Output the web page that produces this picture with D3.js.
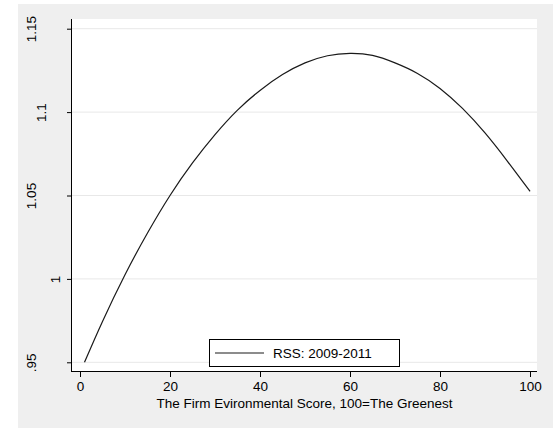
<html>
<head>
<script src="https://d3js.org/d3.v7.min.js"></script>
<style>
	body { margin: 0; background: white; }
	text { font-family: "Liberation Sans", Arial, Helvetica, sans-serif; fill: black; }
</style>
</head>
<body>
<svg id="chart" width="553" height="436"></svg>
<script>
// values
var scores = [1, 5, 10, 15, 20, 25, 30, 35, 40, 45, 50, 55, 60, 65, 70, 75, 80, 85, 90, 95, 100];
var rss = [0.950, 0.9745, 1.0025, 1.0275, 1.050, 1.0695, 1.0865, 1.1012, 1.113, 1.1225, 1.1295, 1.1338,
           1.1352, 1.134, 1.1295, 1.1232, 1.1142, 1.1022, 1.0875, 1.0705, 1.0525];
var xTicks = [0, 20, 40, 60, 80, 100];
var yTicks = [0.95, 1, 1.05, 1.1, 1.15];
var seriesName = "RSS: 2009-2011";
var xTitle = "The Firm Evironmental Score, 100=The Greenest";

function draw() {
	var svg = d3.select("#chart"),
		W = 553,
		mLeft = 72, mTop = 19, mRight = 537, mBottom = 371,
		pw = mRight - mLeft, ph = mBottom - mTop;

	// outer gray background
	svg.append("rect")
		.attr("x", 18).attr("y", 4)
		.attr("width", W - 18).attr("height", 424)
		.attr("fill", "#efefef");

	var g = svg.append("g").attr("transform", "translate(" + mLeft + "," + mTop + ")");

	g.append("rect")
		.attr("width", pw).attr("height", ph)
		.attr("fill", "white");

	var x = d3.scaleLinear().domain([0, 100]).range([8, 458]);
	var y = d3.scaleLinear().domain([0.95, 1.15]).range([343.3, 9.7]);

	// grid lines
	g.selectAll(".grid")
		.data(yTicks)
		.enter().append("line")
		.attr("x1", 0).attr("x2", pw)
		.attr("y1", function(d) { return y(d); })
		.attr("y2", function(d) { return y(d); })
		.attr("stroke", "#e8e8e8")
		.attr("stroke-width", 1);

	// curve
	var data = scores.map(function(s, i) { return {x: s, y: rss[i]}; });
	var line = d3.line()
		.x(function(d) { return x(d.x); })
		.y(function(d) { return y(d.y); })
		.curve(d3.curveNatural);

	g.append("path")
		.datum(data)
		.attr("d", line)
		.attr("fill", "none")
		.attr("stroke", "#1a1a1a")
		.attr("stroke-width", 1.2);

	// y axis
	var yAxis = g.append("g")
		.call(d3.axisLeft(y).tickValues(yTicks).tickSize(5).tickFormat(function(d) {
			return d3.format("~g")(d).replace(/^0\./, ".");
		}));
	yAxis.select(".domain").remove();
	yAxis.selectAll(".tick line").attr("stroke", "black");
	// Stata-style rotated labels, pushed left by the length of the raw number
	yAxis.selectAll(".tick").each(function(d) {
		var lab = d3.select(this).select("text");
		var probe = g.append("text").style("font-size", "13.5px").text(String(d));
		var len = probe.node().getComputedTextLength();
		probe.remove();
		var bx = 70 - 1.3 * len - mLeft;
		lab.attr("x", null).attr("dy", null)
			.attr("text-anchor", "middle")
			.attr("transform", "translate(" + bx + ",0) rotate(-90)")
			.style("font-size", "13.5px")
			.attr("fill", "black");
	});
	g.append("line")
		.attr("x1", -0.5).attr("x2", -0.5)
		.attr("y1", 0).attr("y2", ph)
		.attr("stroke", "black");

	// x axis
	var xAxis = g.append("g")
		.attr("transform", "translate(0," + ph + ")")
		.call(d3.axisBottom(x).tickValues(xTicks).tickSize(6).tickPadding(4));
	xAxis.select(".domain").remove();
	xAxis.selectAll(".tick line").attr("stroke", "black");
	xAxis.selectAll(".tick text").style("font-size", "13.5px").attr("fill", "black");
	g.append("line")
		.attr("x1", -1).attr("x2", pw)
		.attr("y1", ph + 0.5).attr("y2", ph + 0.5)
		.attr("stroke", "black");

	g.append("text")
		.attr("x", pw / 2).attr("y", 408 - mTop)
		.attr("text-anchor", "middle")
		.style("font-size", "13.5px")
		.text(xTitle);

	// legend
	var lg = g.append("g").attr("transform", "translate(" + (209 - mLeft) + "," + (339 - mTop) + ")");
	lg.append("rect")
		.attr("x", 0.5).attr("y", 0.5)
		.attr("width", 190).attr("height", 27)
		.attr("fill", "white").attr("stroke", "black");
	lg.append("line")
		.attr("x1", 6).attr("x2", 55)
		.attr("y1", 14).attr("y2", 14)
		.attr("stroke", "#1a1a1a").attr("stroke-width", 1.2);
	lg.append("text")
		.attr("x", 64).attr("y", 19)
		.style("font-size", "13.5px")
		.text(seriesName);
}

draw();
</script>
</body>
</html>
